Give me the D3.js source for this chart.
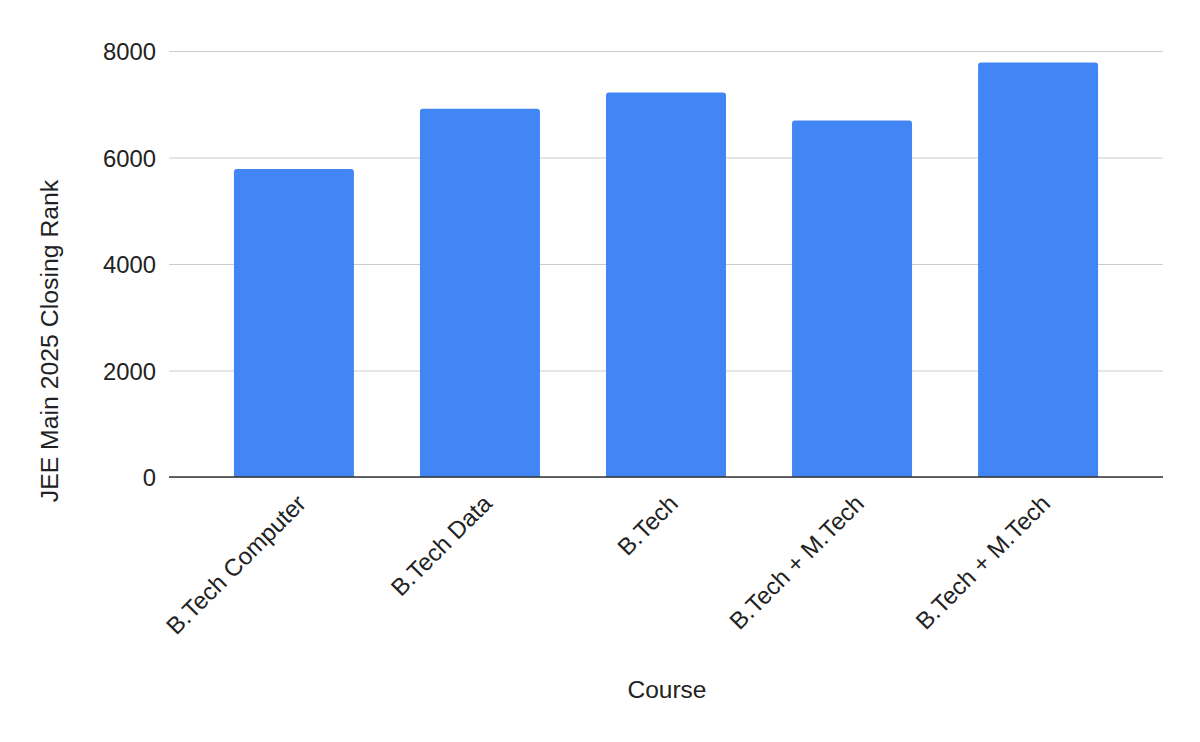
<!DOCTYPE html>
<html>
<head>
<meta charset="utf-8">
<script src="https://cdn.jsdelivr.net/npm/d3@7"></script>
<style>
  body { margin: 0; background: #fff; }
  text { font-family: Arial, "Liberation Sans", sans-serif; fill: #222; }
</style>
</head>
<body>
<svg id="chart" width="1200" height="742"></svg>
<script>
const courses = ['B.Tech Computer', 'B.Tech Data', 'B.Tech', 'B.Tech + M.Tech', 'B.Tech + M.Tech'];
const closingRanks = [5784, 6916, 7223, 6697, 7786];
const yTicks = [0, 2000, 4000, 6000, 8000];

const margin = { top: 51, right: 37, bottom: 265, left: 169 };
const width = 1200 - margin.left - margin.right;
const height = 742 - margin.top - margin.bottom;

const svg = d3.select('#chart');
const g = svg.append('g').attr('transform', `translate(${margin.left},${margin.top})`);

const x = d3.scaleBand()
  .domain(courses.map((c, i) => i))
  .range([0, width])
  .paddingInner(0.355)
  .paddingOuter(0.349);

const y = d3.scaleLinear().domain([0, 8000]).range([height, 0]);

// gridlines + y labels
const axisY = d3.axisLeft(y).tickValues(yTicks).tickSize(-width).tickPadding(13).tickFormat(d => d);
g.append('g').attr('class', 'axis-y').call(axisY)
  .call(s => s.select('.domain').remove())
  .call(s => s.selectAll('line').attr('stroke', '#cccccc'))
  .call(s => s.selectAll('text').attr('font-size', 23.8).attr('dy', '0.36em').style('fill', '#222'));

// bars with rounded tops
const r = 3;
g.append('g').selectAll('path')
  .data(closingRanks)
  .join('path')
  .attr('fill', '#4285f4')
  .attr('d', (d, i) => {
    const x0 = x(i), x1 = x(i) + x.bandwidth(), y0 = y(d), yb = y(0);
    return `M${x0},${yb}V${y0 + r}Q${x0},${y0} ${x0 + r},${y0}H${x1 - r}Q${x1},${y0} ${x1},${y0 + r}V${yb}Z`;
  });

// baseline
g.append('line')
  .attr('x1', 0).attr('x2', width)
  .attr('y1', y(0)).attr('y2', y(0))
  .attr('stroke', '#333').attr('stroke-width', 1.3);

// x labels rotated
g.append('g').selectAll('text')
  .data(courses)
  .join('text')
  .attr('text-anchor', 'end')
  .attr('font-size', 24)
  .attr('transform', (d, i) => `translate(${x(i) + x.bandwidth() / 2 + 13.5},${height + 28}) rotate(-45)`)
  .text(d => d);

// axis titles
svg.append('text')
  .attr('x', 667)
  .attr('y', 698)
  .attr('text-anchor', 'middle')
  .attr('font-size', 24.5)
  .text('Course');

svg.append('text')
  .attr('transform', 'translate(58,341) rotate(-90)')
  .attr('text-anchor', 'middle')
  .attr('font-size', 24.8)
  .text('JEE Main 2025 Closing Rank');
</script>
</body>
</html>
